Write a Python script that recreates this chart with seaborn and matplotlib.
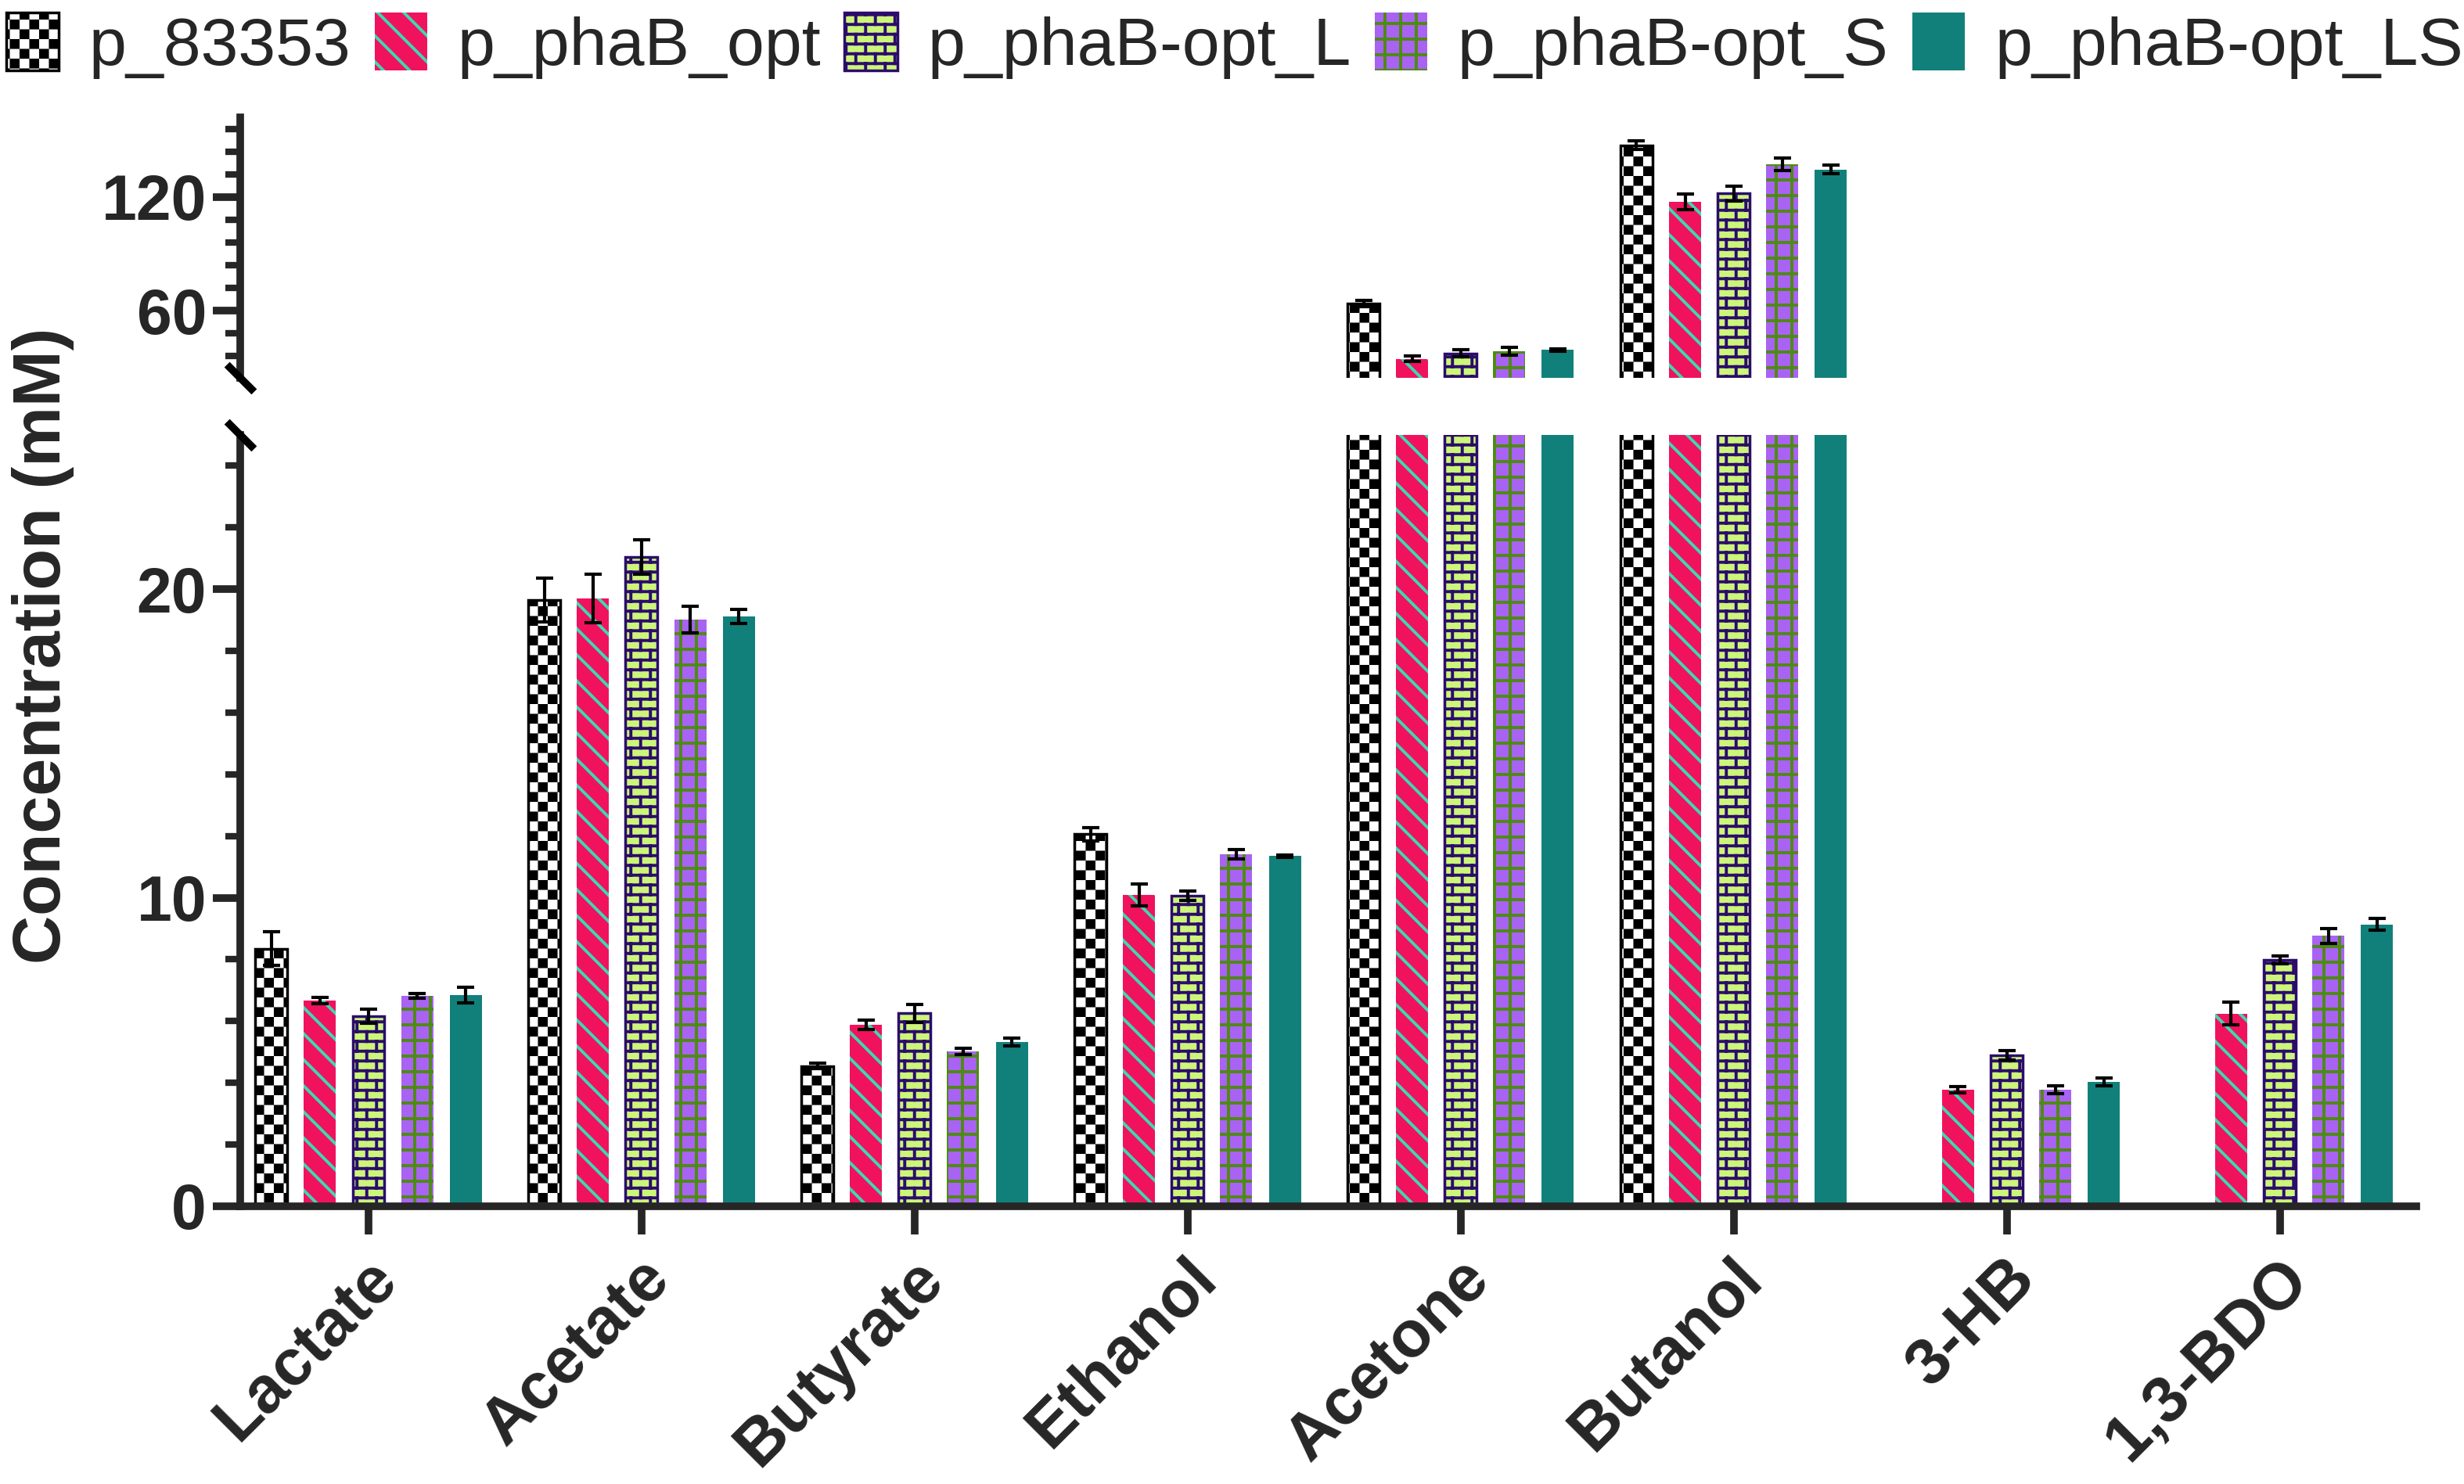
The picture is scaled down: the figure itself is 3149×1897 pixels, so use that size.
import warnings
import numpy as np
import pandas as pd
import seaborn as sns
import matplotlib.pyplot as plt
from matplotlib import hatch as mhatch
from matplotlib import transforms as mtrans
from matplotlib.path import Path
from matplotlib.ticker import FixedLocator, MultipleLocator

warnings.filterwarnings('ignore')

metabolites = ['Lactate', 'Acetate', 'Butyrate', 'Ethanol', 'Acetone', 'Butanol', '3-HB', '1,3-BDO']
strains = ['p_83353', 'p_phaB_opt', 'p_phaB-opt_L', 'p_phaB-opt_S', 'p_phaB-opt_LS']

mean_83353 = [8.35, 19.65, 4.55, 12.06, 63.7, 147.2, np.nan, np.nan]
mean_opt = [6.67, 19.7, 5.88, 10.09, 34.5, 117.5, 3.77, 6.24]
mean_opt_L = [6.16, 21.04, 6.26, 10.07, 37.5, 121.8, 4.89, 7.98]
mean_opt_S = [6.82, 19.02, 5.03, 11.4, 38.5, 137.2, 3.77, 8.77]
mean_opt_LS = [6.85, 19.11, 5.32, 11.35, 39.3, 134.5, 4.03, 9.14]

err_83353 = [0.55, 0.7, 0.08, 0.22, 1.7, 2.3, np.nan, np.nan]
err_opt = [0.1, 0.78, 0.15, 0.35, 1.4, 4.2, 0.1, 0.37]
err_opt_L = [0.22, 0.55, 0.29, 0.16, 1.7, 4.0, 0.15, 0.13]
err_opt_S = [0.07, 0.43, 0.1, 0.15, 2.0, 3.4, 0.13, 0.24]
err_opt_LS = [0.25, 0.23, 0.12, 0.03, 0.6, 2.2, 0.12, 0.18]

means = [mean_83353, mean_opt, mean_opt_L, mean_opt_S, mean_opt_LS]
errs = [err_83353, err_opt, err_opt_L, err_opt_S, err_opt_LS]

face_colors = ['white', '#F0125C', '#CCF57A', '#A863F2', '#12807A']
hatch_colors = ['black', '#3ED8B4', '#2B0C6B', '#4E8B12', 'none']
hatches = ['k', '\\', 'b', 'g', None]
edge_widths = [2.5, 0, 2.5, 0, 0]


# extra fill textures (checkerboard, brick, grid) for the hatch machinery
class CheckerHatch(mhatch.HatchPatternBase):
    n = 8

    def __init__(self, hatch, density):
        self.cells = []
        if 'k' in hatch:
            self.cells = [(i, j) for i in range(self.n) for j in range(self.n) if (i + j) % 2 == 0]
        self.num_vertices = 5 * len(self.cells)

    def set_vertices_and_codes(self, vertices, codes):
        s = 1.0 / self.n
        ins = 0.019
        for k, (i, j) in enumerate(self.cells):
            x0, y0 = i * s + ins, j * s + ins
            x1, y1 = (i + 1) * s - ins, (j + 1) * s - ins
            vertices[5 * k:5 * k + 5] = [(x0, y0), (x1, y0), (x1, y1), (x0, y1), (x0, y0)]
            codes[5 * k:5 * k + 5] = [Path.MOVETO, Path.LINETO, Path.LINETO, Path.LINETO, Path.CLOSEPOLY]


class SegmentHatch(mhatch.HatchPatternBase):
    key = ''

    def __init__(self, hatch, density):
        self.segs = self.make_segs() if self.key in hatch else []
        self.num_vertices = 2 * len(self.segs)

    def make_segs(self):
        return []

    def set_vertices_and_codes(self, vertices, codes):
        for k, (a, b) in enumerate(self.segs):
            vertices[2 * k] = a
            vertices[2 * k + 1] = b
            codes[2 * k] = Path.MOVETO
            codes[2 * k + 1] = Path.LINETO


class BrickHatch(SegmentHatch):
    key = 'b'

    def make_segs(self):
        rows, cols = 8, 4
        segs = []
        for r in range(rows):
            y = (r + 0.5) / rows
            segs.append(((0, y), (1, y)))
        for r in range(-1, rows):
            y0 = max((r + 0.5) / rows, 0)
            y1 = min((r + 1.5) / rows, 1)
            off = 0.5 / cols if r % 2 else 0.0
            for c in range(cols):
                x = c / cols + off + 0.25 / cols
                segs.append(((x, y0), (x, y1)))
        return segs


class GridHatch(SegmentHatch):
    key = 'g'

    def make_segs(self):
        n = 5
        segs = []
        for k in range(n):
            v = (k + 0.5) / n
            segs.append(((0, v), (1, v)))
            segs.append(((v, 0), (v, 1)))
        return segs


mhatch._hatch_types.extend([CheckerHatch, BrickHatch, GridHatch])

sns.set_style('ticks')
plt.rcParams['font.family'] = ['Liberation Sans', 'DejaVu Sans']
plt.rcParams['hatch.linewidth'] = 2.8

rows = []
for s, vals in zip(strains, means):
    for m, v in zip(metabolites, vals):
        rows.append({'metabolite': m, 'strain': s, 'conc': v})
df = pd.DataFrame(rows)

W, H = 3149, 1897
fig = plt.figure(figsize=(W / 100, H / 100), dpi=100)
left = 307 / W
width = (3088 - 307) / W
ax_bot = fig.add_axes([left, 1 - 1542 / H, width, (1542 - 556) / H])
ax_top = fig.add_axes([left, 1 - 483 / H, width, (483 - 150) / H], sharex=ax_bot)

for ax in (ax_top, ax_bot):
    sns.barplot(data=df, x='metabolite', y='conc', hue='strain', order=metabolites,
                hue_order=strains, palette=dict(zip(strains, face_colors)), saturation=1,
                width=0.89, gap=0.34, errorbar=None, legend=False, ax=ax)
    for i, cont in enumerate(ax.containers[:len(strains)]):
        for p in cont.patches:
            p.set_facecolor(face_colors[i])
            if hatches[i]:
                p.set_hatch(hatches[i])
                p.set_edgecolor(hatch_colors[i])
            else:
                p.set_edgecolor('none')
            p.set_linewidth(edge_widths[i])
            h = p.get_height()
            if not np.isfinite(h):
                continue
            xc = p.get_x() + p.get_width() / 2
            j = int(round(xc))
            ax.errorbar(xc, h, yerr=errs[i][j], fmt='none', ecolor='black',
                        elinewidth=3, capsize=8, capthick=3, zorder=5)
    ax.set_xlabel('')
    ax.set_ylabel('')
    for sp in ('top', 'right'):
        ax.spines[sp].set_visible(False)
    ax.spines['left'].set_linewidth(7)
    ax.spines['bottom'].set_linewidth(7)
    ax.tick_params(axis='y', which='major', length=25, width=7, labelsize=58, pad=6)
    ax.tick_params(axis='y', which='minor', length=14, width=6)

ax_bot.set_xlim(-0.47, 7.5)
ax_bot.set_ylim(0, 25)
ax_bot.set_yticks([0, 10, 20])
ax_bot.yaxis.set_minor_locator(MultipleLocator(2))
ax_top.set_ylim(24.5, 162)
ax_top.set_yticks([60, 120])
ax_top.yaxis.set_minor_locator(FixedLocator([36, 48, 72, 84, 96, 108, 132, 144, 156]))
ax_top.spines['bottom'].set_visible(False)
ax_top.tick_params(axis='x', bottom=False, labelbottom=False)

ax_bot.set_xticks(range(len(metabolites)))
ax_bot.set_xticklabels([])
ax_bot.tick_params(axis='x', length=26, width=7)
lab_tr = mtrans.offset_copy(ax_bot.get_xaxis_transform(), fig=fig, x=24, y=-80, units='dots')
for j, m in enumerate(metabolites):
    ax_bot.text(j, 0, m, transform=lab_tr, rotation=45, ha='right', va='center',
                rotation_mode='anchor', fontsize=60, fontweight='bold')

for ax in (ax_top, ax_bot):
    for lab in ax.get_yticklabels():
        lab.set_fontweight('bold')

brk = dict(marker=[(-1, 1), (1, -1)], markersize=25, linestyle='none',
           color='black', mec='black', mew=7, clip_on=False, zorder=10)
ax_top.plot([0], [0], transform=ax_top.transAxes, **brk)
ax_bot.plot([0], [1], transform=ax_bot.transAxes, **brk)

fig.text(55 / W, 1 - 825 / H, 'Concentration (mM)', rotation=90, ha='center', va='center',
         fontsize=62, fontweight='bold')

handles = [ax_bot.containers[i].patches[0] for i in range(len(strains))]
fig.legend(handles, strains, loc='upper left', bbox_to_anchor=(8 / W, 1 - 16 / H),
           ncol=5, frameon=False, prop={'size': 62}, handlelength=0.78, handleheight=0.95,
           handletextpad=0.45, columnspacing=0.35, borderpad=0, borderaxespad=0)

fig.savefig('out.png', dpi=100)
